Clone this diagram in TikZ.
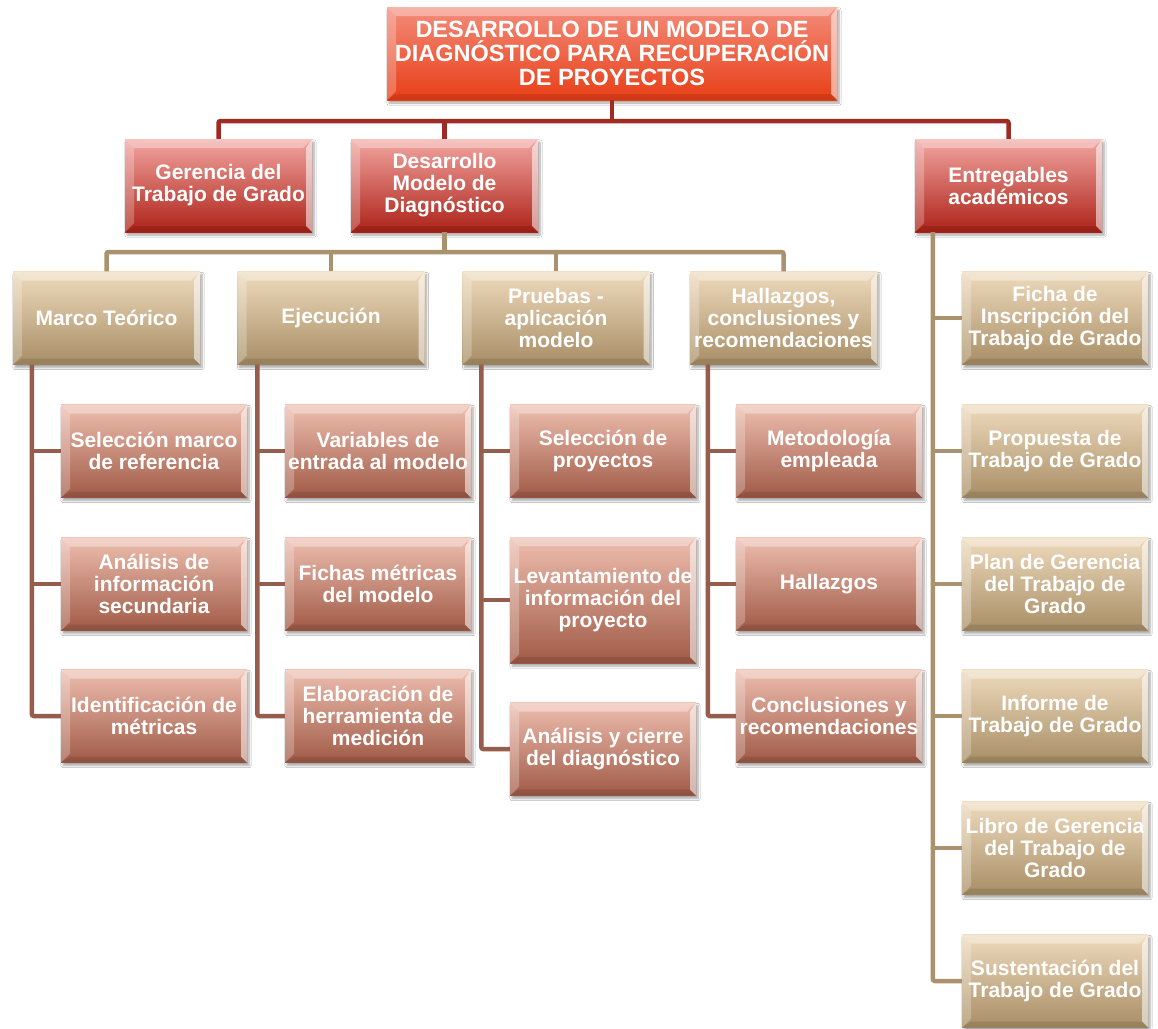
\documentclass[tikz,border=0pt]{standalone}
\usepackage{fontspec}
\setmainfont{Liberation Sans}
\usetikzlibrary{shadings,shadows.blur,calc}
\definecolor{tTop}{RGB}{243,140,122}
\definecolor{tBot}{RGB}{232,62,22}
\definecolor{rTop}{RGB}{242,165,160}
\definecolor{rBot}{RGB}{172,34,24}
\definecolor{nTop}{RGB}{238,218,188}
\definecolor{nBot}{RGB}{168,142,102}
\definecolor{bTop}{RGB}{238,190,175}
\definecolor{bBot}{RGB}{160,90,70}
\definecolor{redLine}{RGB}{158,44,34}
\definecolor{tanLine}{RGB}{170,146,110}
\definecolor{brnLine}{RGB}{150,92,76}
\newcommand\bevelpic{%
  \coordinate (bvNW) at (path picture bounding box.north west);
  \coordinate (bvNE) at (path picture bounding box.north east);
  \coordinate (bvSW) at (path picture bounding box.south west);
  \coordinate (bvSE) at (path picture bounding box.south east);
  \fill[white,opacity=.35] (bvNW) -- (bvNE) -- ([xshift=-9pt,yshift=-9pt]bvNE) -- ([xshift=9pt,yshift=-9pt]bvNW) -- cycle;
  \fill[white,opacity=.25] (bvNW) -- (bvSW) -- ([xshift=9pt,yshift=9pt]bvSW) -- ([xshift=9pt,yshift=-9pt]bvNW) -- cycle;
  \fill[white,opacity=.55] (bvNE) -- (bvSE) -- ([xshift=-6pt,yshift=6pt]bvSE) -- ([xshift=-6pt,yshift=-9pt]bvNE) -- cycle;
  \fill[black,opacity=.10] (bvSW) -- (bvSE) -- ([xshift=-6pt,yshift=6pt]bvSE) -- ([xshift=9pt,yshift=6pt]bvSW) -- cycle;
}
\tikzset{
  box/.style={minimum width=187pt, minimum height=93pt, inner sep=0pt, align=center,
    text=white, font=\fontsize{21}{22}\selectfont\bfseries,
    blur shadow={shadow xshift=2pt, shadow yshift=-3pt, shadow blur steps=6, shadow opacity=35},
    path picture={\bevelpic}},
  titlebox/.style={box, minimum width=450pt, top color=tTop, bottom color=tBot,
    font=\fontsize{23.5}{24}\selectfont\bfseries},
  redbox/.style={box, top color=rTop, bottom color=rBot},
  tanbox/.style={box, top color=nTop, bottom color=nBot},
  brnbox/.style={box, minimum width=186pt, top color=bTop, bottom color=bBot},
  rcol/.style={box, minimum width=186pt, top color=nTop, bottom color=nBot},
  redconn/.style={draw=redLine, line width=4.5pt, rounded corners=2pt},
  tanconn/.style={draw=tanLine, line width=4.5pt, rounded corners=2pt},
  brnconn/.style={draw=brnLine, line width=4.5pt, rounded corners=2pt},
}
\begin{document}
\begin{tikzpicture}[x=1pt,y=-1pt]
\useasboundingbox[fill=white] (0,0) rectangle (1158,1028);

% title and level 1
\node[titlebox] (title) at (612,53.5) {DESARROLLO DE UN MODELO DE\\DIAGNÓSTICO PARA RECUPERACIÓN\\DE PROYECTOS};
\node[redbox] (geren) at (218.5,185.5) {Gerencia del\\Trabajo de Grado};
\node[redbox] (desar) at (444.5,185.5) {Desarrollo\\Modelo de\\Diagnóstico};
\node[redbox] (entre) at (1008.5,185.5) {Entregables\\académicos};

% level 2
\node[tanbox] (marco) at (106.5,318) {Marco Teórico};
\node[tanbox] (ejec) at (331,318) {Ejecución};
\node[tanbox] (prueb) at (556,318) {Pruebas -\\aplicación\\modelo};
\node[tanbox] (hallz) at (783.5,318) {Hallazgos,\\conclusiones y\\recomendaciones};

% level 3 - Marco
\node[brnbox] (m1) at (154,451) {Selección marco\\de referencia};
\node[brnbox] (m2) at (154,584) {Análisis de\\información\\secundaria};
\node[brnbox] (m3) at (154,716) {Identificación de\\métricas};
% Ejecucion
\node[brnbox] (e1) at (378,451) {Variables de\\entrada al modelo};
\node[brnbox] (e2) at (378,584) {Fichas métricas\\del modelo};
\node[brnbox] (e3) at (378,716) {Elaboración de\\herramienta de\\medición};
% Pruebas
\node[brnbox] (p1) at (603,451) {Selección de\\proyectos};
\node[brnbox, minimum height=126pt] (p2) at (603,600) {Levantamiento de\\información del\\proyecto};
\node[brnbox] (p3) at (603,749) {Análisis y cierre\\del diagnóstico};
% Hallazgos
\node[brnbox] (h1) at (829,451) {Metodología\\empleada};
\node[brnbox] (h2) at (829,584) {Hallazgos};
\node[brnbox] (h3) at (829,716) {Conclusiones y\\recomendaciones};

% right column
\node[rcol] (r1) at (1055,318) {Ficha de\\Inscripción del\\Trabajo de Grado};
\node[rcol] (r2) at (1055,451) {Propuesta de\\Trabajo de Grado};
\node[rcol] (r3) at (1055,584) {Plan de Gerencia\\del Trabajo de\\Grado};
\node[rcol] (r4) at (1055,716) {Informe de\\Trabajo de Grado};
\node[rcol] (r5) at (1055,848) {Libro de Gerencia\\del Trabajo de\\Grado};
\node[rcol] (r6) at (1055,981) {Sustentación del\\Trabajo de Grado};

% bus coordinates
\coordinate (busA) at (612,121);
\coordinate (busB) at (444.5,252);
\coordinate (colM) at ([xshift=19pt]marco.south west);
\coordinate (colE) at ([xshift=20pt]ejec.south west);
\coordinate (colP) at ([xshift=19pt]prueb.south west);
\coordinate (colH) at ([xshift=18pt]hallz.south west);
\coordinate (colR) at ([xshift=18pt]entre.south west);

% red connectors
\draw[redconn] (title.south) -- (busA);
\draw[redconn] (geren.north) |- (busA) -| (entre.north);
\draw[redconn] (desar.north) -- (desar.north |- busA);

% tan connectors
\draw[tanconn] (desar.south) -- (busB);
\draw[tanconn] (marco.north) |- (busB) -| (hallz.north);
\draw[tanconn] (ejec.north) -- (ejec.north |- busB);
\draw[tanconn] (prueb.north) -- (prueb.north |- busB);

% brown connectors
\draw[brnconn] (colM) |- (m3.west);
\draw[brnconn] (m1.west -| colM) -- (m1.west);
\draw[brnconn] (m2.west -| colM) -- (m2.west);
\draw[brnconn] (colE) |- (e3.west);
\draw[brnconn] (e1.west -| colE) -- (e1.west);
\draw[brnconn] (e2.west -| colE) -- (e2.west);
\draw[brnconn] (colP) |- (p3.west);
\draw[brnconn] (p1.west -| colP) -- (p1.west);
\draw[brnconn] (p2.west -| colP) -- (p2.west);
\draw[brnconn] (colH) |- (h3.west);
\draw[brnconn] (h1.west -| colH) -- (h1.west);
\draw[brnconn] (h2.west -| colH) -- (h2.west);

% right column connectors
\draw[tanconn] (colR) |- (r6.west);
\draw[tanconn] (r1.west -| colR) -- (r1.west);
\draw[tanconn] (r2.west -| colR) -- (r2.west);
\draw[tanconn] (r3.west -| colR) -- (r3.west);
\draw[tanconn] (r4.west -| colR) -- (r4.west);
\draw[tanconn] (r5.west -| colR) -- (r5.west);
\end{tikzpicture}
\end{document}
